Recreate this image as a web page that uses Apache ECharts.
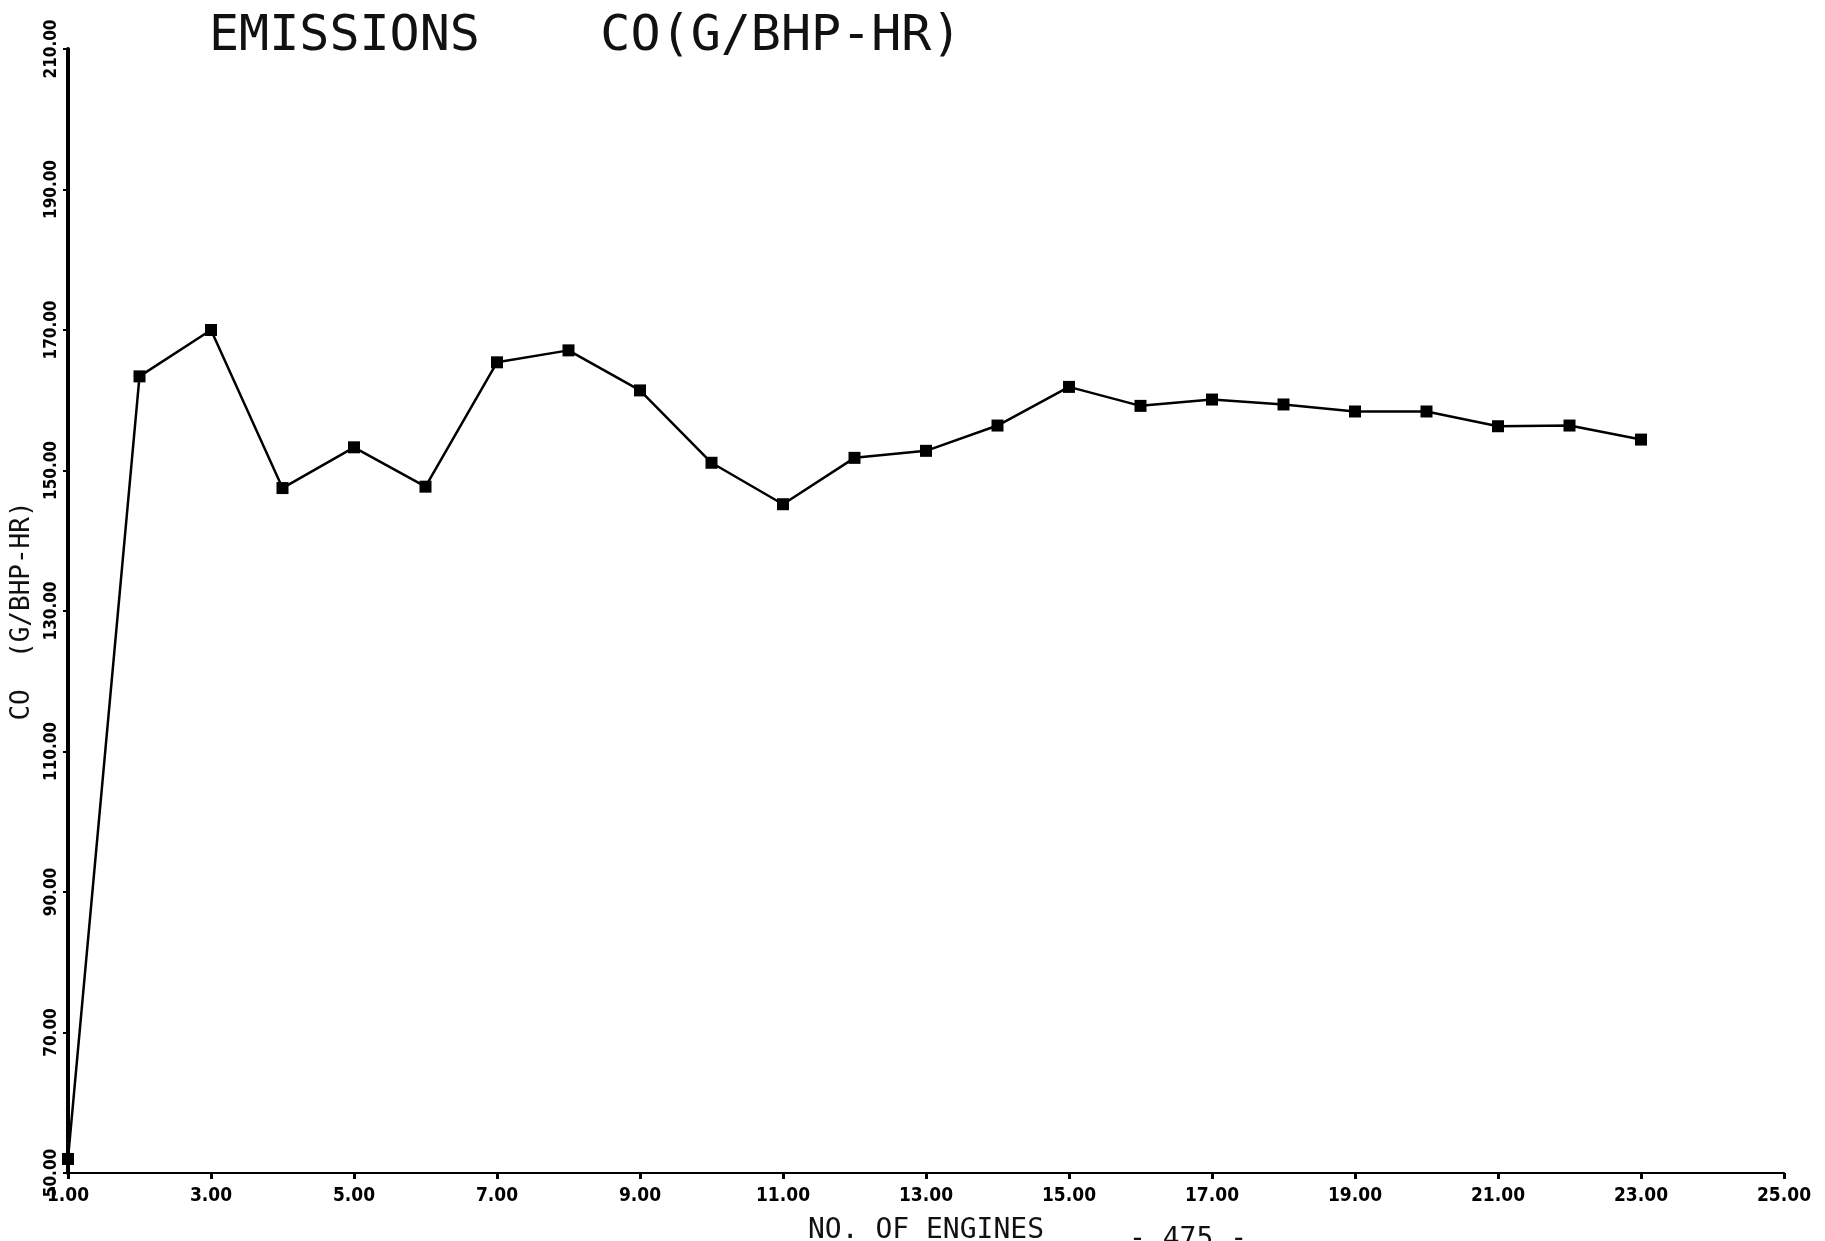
<!DOCTYPE html>
<html>
<head>
<meta charset="utf-8">
<style>
  html, body { margin: 0; padding: 0; background: #fff; }
  #chart { width: 1825px; height: 1241px; }
</style>
<script src="https://cdn.jsdelivr.net/npm/echarts@6/dist/echarts.min.js"></script>
</head>
<body>
<div id="chart"></div>
<script>
// number of engines and CO emissions (g/bhp-hr)
const engines = [1, 2, 3, 4, 5, 6, 7, 8, 9, 10, 11, 12, 13, 14, 15, 16, 17, 18, 19, 20, 21, 22, 23]
const coValues = [52.0, 163.4, 170.0, 147.5, 153.3, 147.7, 165.4, 167.1, 161.4, 151.1, 145.2,
  151.8, 152.8, 156.4, 161.9, 159.2, 160.1, 159.4, 158.4, 158.4, 156.3, 156.4, 154.4]

const xMin = 1, xMax = 25, xStep = 2
const yMin = 50, yMax = 210, yStep = 20

const chart = echarts.init(document.getElementById('chart'))

const labelFont = 'DejaVu Sans Condensed'
const plotterFont = 'DejaVu Sans Mono'

const option = {
  animation: false,
  backgroundColor: '#fff',
  title: {
    text: 'EMISSIONS    CO(G/BHP-HR)',
    left: 209,
    top: 12,
    padding: 0,
    textStyle: { fontFamily: plotterFont, fontSize: 50, fontWeight: 'normal', color: '#111' },
  },
  grid: { left: 68, right: 41, top: 49, bottom: 68, outerBoundsMode: 'none' },
  xAxis: {
    type: 'value',
    min: xMin,
    max: xMax,
    interval: xStep,
    name: 'NO. OF ENGINES',
    nameLocation: 'middle',
    nameGap: 44,
    nameTextStyle: { fontFamily: plotterFont, fontSize: 28, color: '#111' },
    axisLine: { lineStyle: { color: '#000', width: 2 } },
    axisTick: { length: 6, inside: false, lineStyle: { color: '#000', width: 3 } },
    axisLabel: {
      margin: 14,
      fontFamily: labelFont,
      fontWeight: 'bold',
      fontSize: 19,
      color: '#000',
      formatter: (v) => v.toFixed(2),
    },
    splitLine: { show: false },
  },
  yAxis: {
    type: 'value',
    min: yMin,
    max: yMax,
    interval: yStep,
    name: 'CO  (G/BHP-HR)',
    nameLocation: 'middle',
    nameGap: 33,
    nameTextStyle: { fontFamily: plotterFont, fontSize: 26, color: '#111' },
    axisLine: { lineStyle: { color: '#000', width: 4 } },
    axisTick: { length: 5, lineStyle: { color: '#000', width: 2 } },
    axisLabel: {
      rotate: 90,
      margin: 8,
      fontFamily: labelFont,
      fontWeight: 'bold',
      fontSize: 17,
      color: '#000',
      formatter: (v) => v.toFixed(2),
    },
    splitLine: { show: false },
  },
  series: [
    {
      type: 'line',
      data: engines.map((n, i) => [n, coValues[i]]),
      symbol: 'rect',
      symbolSize: 12,
      itemStyle: { color: '#000' },
      lineStyle: { color: '#000', width: 2.5 },
    },
  ],
  graphic: [
    {
      type: 'text',
      left: 1129,
      top: 1226,
      style: { text: '- 475 -', font: '28px "DejaVu Sans Mono"', fill: '#111' },
    },
  ],
}

chart.setOption(option)
</script>
</body>
</html>
